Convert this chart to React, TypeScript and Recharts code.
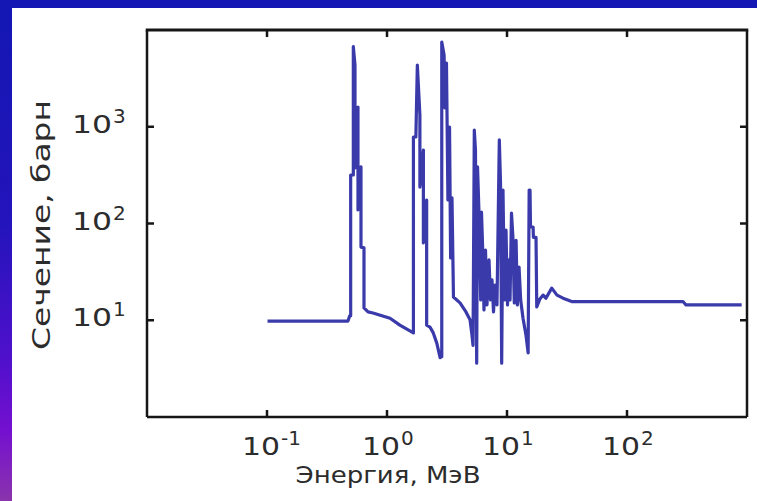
import { LineChart, Line, XAxis, YAxis } from "recharts";

const C = { line: "#3a3aab", frame: "#161616", text: "#2c2c2c" };
const FONT = "'DejaVu Sans', Verdana, sans-serif";

// energy, MeV
const ENERGY = [
  0.101, 0.473, 0.489, 0.498, 0.498, 0.524, 0.524, 0.541, 0.541, 0.573,
  0.573, 0.607, 0.607, 0.643, 0.643, 0.695, 0.764, 1.06, 1.28, 1.66,
  1.66, 1.74, 1.79, 1.88, 1.88, 2.01, 2.01, 2.14, 2.14, 2.28,
  2.43, 2.6, 2.77, 2.86, 2.86, 2.99, 3.04, 3.13, 3.22, 3.32,
  3.39, 3.48, 3.58, 4.06, 4.55, 4.92, 5.11, 5.21, 5.34, 5.46,
  5.59, 5.68, 5.84, 6.04, 6.13, 6.31, 6.43, 6.62, 6.81, 7.08,
  7.29, 7.5, 7.72, 7.94, 8.25, 8.63, 8.83, 9.03, 9.26, 9.53,
  9.81, 10.1, 10.4, 10.6, 10.9, 11.2, 11.5, 11.9, 12.2, 12.6,
  13.0, 13.6, 14.4, 15.0, 15.3, 15.55, 15.7, 16.5, 16.6, 17.45,
  17.7, 18.8, 20.0, 21.1, 23.6, 26.1, 29.3, 34.6, 293, 310,
  903,
];

// cross section, barn
const SIGMA = [
  9.8, 9.8, 11.1, 11.1, 317, 317, 6720, 4350, 375, 1600,
  138, 385, 57, 56, 13.4, 12.2, 11.9, 10.5, 8.9, 7.4,
  784, 784, 4350, 1322, 238, 575, 63, 175, 8.9, 8.5,
  7.4, 5.8, 4.1, 4.2, 7520, 5520, 1563, 4560, 175, 994,
  44, 184, 17.4, 15.1, 12.2, 10.1, 7.0, 5.5, 925, 575,
  3.6, 385, 131, 16.2, 131, 42, 12.8, 53, 14.4, 42,
  16.2, 26.1, 12.2, 23.1, 14.4, 730, 262, 3.6, 222, 16.2,
  85.7, 14.4, 42, 16.2, 128, 72, 15.1, 67, 14.4, 35.5,
  16.2, 10.5, 7.0, 4.6, 222, 222, 92, 92, 72, 72,
  13.7, 16.6, 18.2, 16.9, 21.5, 18.2, 16.9, 15.6, 15.6, 14.4,
  14.4,
];

const X_DOMAIN = [0.01, 1000];
const Y_DOMAIN = [1, 10000];
const X_TICKS = [0.1, 1, 10, 100];
const X_EXP = ["-1", "0", "1", "2"];
const Y_TICKS = [10, 100, 1000];
const Y_EXP = ["1", "2", "3"];

const data = ENERGY.map((e, i) => ({ e, s: SIGMA[i] }));

// plot box (px)
const PLOT = { left: 147, top: 30, width: 600 };
const topTickX = (t: number) =>
  PLOT.left + PLOT.width * (Math.log10(t) - Math.log10(X_DOMAIN[0])) / (Math.log10(X_DOMAIN[1]) - Math.log10(X_DOMAIN[0]));

const BottomTick = ({ x, y, index }: any) => (
  <g>
    <line x1={x} x2={x} y1={y} y2={y - 7} stroke={C.frame} strokeWidth={2.5} />
    <text x={x - 6} y={y + 38} textAnchor="middle" fontSize={24} fill={C.text} fontFamily={FONT}
      textLength={38} lengthAdjust="spacingAndGlyphs">10</text>
    <text x={x + 14} y={y + 28} fontSize={20} fill={C.text} fontFamily={FONT}>{X_EXP[index]}</text>
  </g>
);

const LeftTick = ({ x, y, index }: any) => (
  <g>
    <line x1={x} x2={x + 7} y1={y} y2={y} stroke={C.frame} strokeWidth={2.5} />
    <text x={x - 35} y={y + 6} textAnchor="end" fontSize={25} fill={C.text} fontFamily={FONT}
      textLength={40} lengthAdjust="spacingAndGlyphs">10</text>
    <text x={x - 34} y={y - 4} fontSize={20} fill={C.text} fontFamily={FONT}>{Y_EXP[index]}</text>
  </g>
);

const RightTick = ({ x, y }: any) => (
  <line x1={x} x2={x - 7} y1={y} y2={y} stroke={C.frame} strokeWidth={2.5} />
);

const axisLine = { stroke: C.frame, strokeWidth: 2.5 };

export default function App() {
  return (
    <div style={{
      position: "fixed", left: 0, top: 0, width: 757, height: 501, overflow: "hidden",
      background: "linear-gradient(180deg, #1317b3 0%, #2414bb 45%, #5010cc 72%, #7410cf 86%, #8a34ac 100%)",
    }}>
      <div style={{ position: "absolute", left: 12, top: 8, right: 0, bottom: 0, background: "#fff" }} />
      <div style={{ position: "absolute", left: 0, top: 0 }}>
        <LineChart width={757} height={501} data={data} margin={{ top: PLOT.top, right: 0, bottom: 0, left: 0 }}>
          <XAxis xAxisId="b" dataKey="e" type="number" scale="log" domain={X_DOMAIN} allowDataOverflow
            ticks={X_TICKS} interval={0} height={84} tickSize={0} tickMargin={0} tickLine={false}
            axisLine={axisLine} tick={<BottomTick />} />
          <YAxis yAxisId="l" dataKey="s" type="number" scale="log" domain={Y_DOMAIN} allowDataOverflow
            ticks={Y_TICKS} interval={0} width={PLOT.left} tickSize={0} tickMargin={0} tickLine={false}
            axisLine={axisLine} tick={<LeftTick />} />
          <YAxis yAxisId="r" orientation="right" dataKey="s" type="number" scale="log" domain={Y_DOMAIN} allowDataOverflow
            ticks={Y_TICKS} interval={0} width={10} tickSize={0} tickMargin={0} tickLine={false}
            axisLine={axisLine} tick={<RightTick />} />
          <Line xAxisId="b" yAxisId="l" dataKey="s" type="linear" stroke={C.line} strokeWidth={3.2}
            dot={false} isAnimationActive={false} strokeLinejoin="round" />
        </LineChart>
      </div>
      <svg width={757} height={501} style={{ position: "absolute", left: 0, top: 0, pointerEvents: "none" }}>
        {/* top edge of the frame */}
        <rect x={PLOT.left - 1.25} y={PLOT.top - 1.5} width={PLOT.width + 2.5} height={3} fill={C.frame} />
        {X_TICKS.map((t) => (
          <rect key={t} x={topTickX(t) - 1.25} y={PLOT.top} width={2.5} height={7} fill={C.frame} />
        ))}
        <text x={388} y={482.5} textAnchor="middle" fontSize={23} fill={C.text} fontFamily={FONT}
          textLength={185} lengthAdjust="spacingAndGlyphs">Энергия, МэВ</text>
        <text transform="translate(50, 225) rotate(-90)" textAnchor="middle" fontSize={24} fill={C.text}
          fontFamily={FONT} textLength={250} lengthAdjust="spacingAndGlyphs">Сечение, барн</text>
      </svg>
    </div>
  );
}
